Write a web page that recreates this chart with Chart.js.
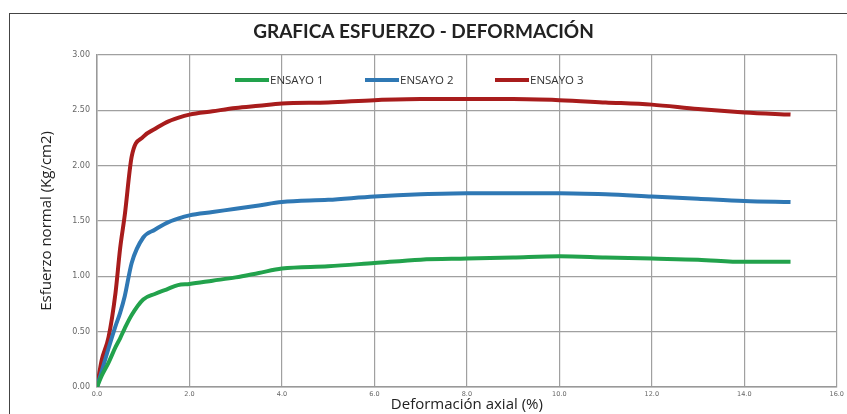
<!DOCTYPE html>
<html>
<head>
<meta charset="utf-8">
<script src="https://cdn.jsdelivr.net/npm/chart.js@4"></script>
<style>
    html, body { margin: 0; padding: 0; background: #fff; overflow: hidden; }
    #frame { position: absolute; left: 9px; top: 13px; width: 900px; height: 500px; border: 1.5px solid #444; }
    #wrap { position: absolute; left: 0; top: 0; width: 847px; height: 414px; }
</style>
</head>
<body>
<div id="frame"></div>
<div id="wrap"><canvas id="graficaChart"></canvas></div>
<script>
// Deformación axial (%)
const deformacion = [0, 0.1, 0.25, 0.4, 0.5, 0.6, 0.75, 1.0, 1.25, 1.5, 1.75, 2.0, 2.5, 3.0, 3.5, 4.0, 5.0, 6.0, 7.0, 8.0, 9.0, 10.0, 11.0, 12.0, 13.0, 14.0, 15.0];

// Esfuerzo normal (Kg/cm2)
const ensayo1 = [0, 0.10, 0.22, 0.36, 0.44, 0.53, 0.65, 0.79, 0.84, 0.88, 0.92, 0.93, 0.96, 0.99, 1.03, 1.07, 1.09, 1.12, 1.15, 1.16, 1.17, 1.18, 1.17, 1.16, 1.15, 1.13, 1.13];
const ensayo2 = [0, 0.14, 0.35, 0.55, 0.67, 0.82, 1.12, 1.35, 1.42, 1.48, 1.52, 1.55, 1.58, 1.61, 1.64, 1.67, 1.69, 1.72, 1.74, 1.75, 1.75, 1.75, 1.74, 1.72, 1.70, 1.68, 1.67];
const ensayo3 = [0, 0.24, 0.45, 0.85, 1.25, 1.55, 2.08, 2.26, 2.33, 2.39, 2.43, 2.46, 2.49, 2.52, 2.54, 2.56, 2.57, 2.59, 2.60, 2.60, 2.60, 2.59, 2.57, 2.55, 2.51, 2.48, 2.46];

const nombres = ['ENSAYO 1', 'ENSAYO 2', 'ENSAYO 3'];
const colores = ['#22a24c', '#2f78b4', '#a81c1c'];

function puntos(ys) {
    return deformacion.map((x, i) => ({ x: x, y: ys[i] }));
}

// leyenda dentro del área del gráfico
const leyendaInterna = {
    id: 'leyendaInterna',
    afterDatasetsDraw(chart) {
        const ctx = chart.ctx;
        const y = 80;
        const paso = 130;
        let x = 235;
        ctx.save();
        ctx.font = '11.5px "Open Sans", sans-serif';
        ctx.textBaseline = 'middle';
        chart.data.datasets.forEach(ds => {
            ctx.strokeStyle = ds.borderColor;
            ctx.lineWidth = 4;
            ctx.beginPath();
            ctx.moveTo(x, y);
            ctx.lineTo(x + 34, y);
            ctx.stroke();
            ctx.fillStyle = '#333';
            ctx.fillText(ds.label, x + 35, y + 1);
            x += paso;
        });
        ctx.restore();
    }
};

document.addEventListener('DOMContentLoaded', function() {
    const ctx = document.getElementById('graficaChart');
    new Chart(ctx, {
        type: 'line',
        data: {
            datasets: [ensayo1, ensayo2, ensayo3].map((serie, i) => ({
                label: nombres[i],
                data: puntos(serie),
                borderColor: colores[i],
                backgroundColor: colores[i],
                borderWidth: 4,
                pointRadius: 0,
                cubicInterpolationMode: 'monotone',
                fill: false
            }))
        },
        options: {
            responsive: true,
            maintainAspectRatio: false,
            animation: false,
            layout: {
                padding: { left: 10, right: 10, top: 0, bottom: 0 }
            },
            plugins: {
                legend: { display: false },
                tooltip: { enabled: false },
                title: {
                    display: true,
                    text: 'GRAFICA ESFUERZO - DEFORMACIÓN',
                    color: '#222',
                    font: { family: 'Lato, sans-serif', size: 19, weight: 'bold' },
                    padding: { top: 20, bottom: 12 }
                }
            },
            scales: {
                x: {
                    type: 'linear',
                    min: 0,
                    max: 16,
                    ticks: {
                        stepSize: 2,
                        color: '#666',
                        font: { family: '"DejaVu Sans", sans-serif', size: 6.5 },
                        padding: 3,
                        maxRotation: 0,
                        callback: v => v.toFixed(1)
                    },
                    grid: { color: '#a0a0a0', lineWidth: 1.2, drawTicks: false },
                    border: { color: '#999', width: 1.5 },
                    title: {
                        display: true,
                        text: 'Deformación axial (%)',
                        color: '#222',
                        font: { family: '"Open Sans", sans-serif', size: 15 },
                        padding: { top: -3, bottom: 0 }
                    },
                    afterFit(scale) { scale.height = 27; }
                },
                y: {
                    min: 0,
                    max: 3,
                    ticks: {
                        stepSize: 0.5,
                        color: '#666',
                        font: { family: '"DejaVu Sans", sans-serif', size: 8 },
                        padding: 7,
                        callback: v => v.toFixed(2)
                    },
                    grid: { color: '#a0a0a0', lineWidth: 1.2, drawTicks: false },
                    border: { color: '#999', width: 1.5 },
                    title: {
                        display: true,
                        text: 'Esfuerzo normal (Kg/cm2)',
                        color: '#222',
                        font: { family: '"Open Sans", sans-serif', size: 15 },
                        padding: { top: 28, bottom: 0 }
                    },
                    afterFit(scale) { scale.width = 87; }
                }
            }
        },
        plugins: [leyendaInterna]
    });
});
</script>
</body>
</html>
